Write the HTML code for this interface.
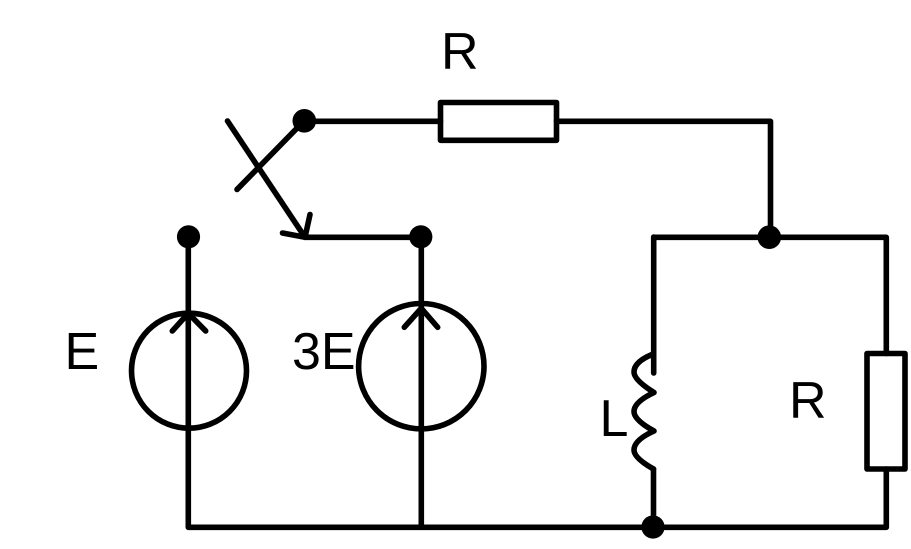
<!DOCTYPE html>
<html>
<head>
<meta charset="utf-8">
<style>
html,body{margin:0;padding:0;background:#fff;}
svg{display:block;}
text{font-family:"Liberation Sans",sans-serif;font-size:52px;fill:#000;}
</style>
</head>
<body>
<svg width="911" height="549" viewBox="0 0 911 549" xmlns="http://www.w3.org/2000/svg">
<g fill="none" stroke="#000" stroke-width="5.6" stroke-linecap="round" stroke-linejoin="round">
<path d="M304 121.300H440.500"/>
<rect x="440.500" y="102.500" width="116" height="37.800"/>
<path d="M556.500 121.300H770.500V237"/>
<path d="M227.500 121L305 237.300"/>
<path d="M237 189.500L304 121"/>
<path d="M282.500 233L305 237.300L310 214.500"/>
<path d="M305 237.300H421"/>
<path d="M654 237.300H886.300V353.500"/>
<rect x="867" y="353.500" width="38" height="115.500"/>
<path d="M886.300 469V527.300H188.300V237"/>
<path d="M421.300 237V527"/>
<circle cx="189" cy="370.700" r="57.500"/>
<path d="M172.300 331L188.300 313.300L205.700 331"/>
<circle cx="421.300" cy="366.200" r="62.700"/>
<path d="M404.300 327.300L421.300 308.300L437.700 327.300"/>
<path d="M653.700 237V373"/>
<path d="M652 354.500Q634 362 634 372Q634 380 654 392.500Q634 402 634 411.500Q634 420 654 431Q634 440 634 450Q634 458 653.500 469"/>
<path d="M653.500 469V527"/>
</g>
<g fill="#000">
<circle cx="304.300" cy="120.800" r="11.800"/>
<circle cx="188.500" cy="236.800" r="11.600"/>
<circle cx="420.800" cy="236.800" r="11.600"/>
<circle cx="769.300" cy="237.200" r="11.800"/>
<circle cx="653" cy="527" r="11.600"/>
</g>
<text x="441" y="69">R</text>
<text x="64.500" y="369">E</text>
<text x="292" y="369">3E</text>
<text x="599.500" y="436">L</text>
<text x="789" y="418">R</text>
</svg>
</body>
</html>
